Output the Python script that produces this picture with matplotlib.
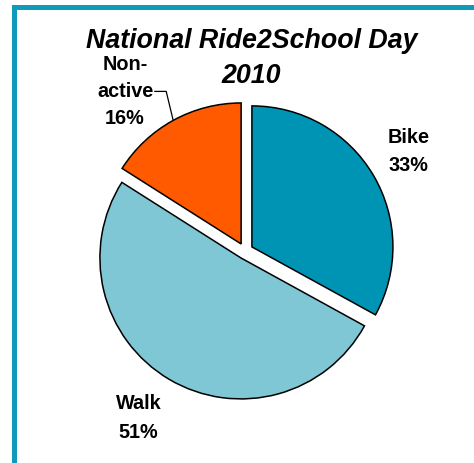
import numpy as np
import matplotlib
matplotlib.use("Agg")
import matplotlib.pyplot as plt
from matplotlib.patches import Rectangle

categories = ["Bike", "Walk", "Non-\nactive"]
values = [33, 51, 16]
title_lines = ["National Ride2School Day", "2010"]

colors = ["#0094B4", "#7FC7D5", "#FF5A00"]
frame_color = "#0E9AB8"
explode_frac = 0.057

W, H = 474, 464
scale = 141.0          # pixels per data unit (pie radius = 1)
cx, cy = 245.0, 252.0  # pie centre in pixels from top-left

fig = plt.figure(figsize=(W / 100, H / 100), dpi=100)
fig.patch.set_facecolor("white")
ax = fig.add_axes([0, 0, 1, 1])

wedges, _ = ax.pie(values, colors=colors, startangle=90, counterclock=False,
                   explode=[explode_frac] * len(values),
                   wedgeprops=dict(edgecolor="black", linewidth=1.1))
ax.set_xlim(-cx / scale, (W - cx) / scale)
ax.set_ylim(-(H - cy) / scale, cy / scale)
ax.set_aspect("auto")
ax.axis("off")

total = float(sum(values))
starts = 90 - 360 * np.concatenate([[0], np.cumsum(values)[:-1]]) / total
mids = starts - 180 * np.array(values) / total

font = "Liberation Sans"
label_r = [1.36, 1.40, 1.42]
label_da = [1.0, -2.0, 8.0]
label_ls = [1.66, 1.66, 1.55]
for cat, v, m, r, da, ls in zip(categories, values, mids, label_r, label_da,
                                label_ls):
    a = np.deg2rad(m + da)
    ax.text(r * np.cos(a), r * np.sin(a), f"{cat}\n{v}%", ha="center",
            va="center", fontsize=14.3, fontweight="bold", family=font,
            linespacing=ls, multialignment="center")

m = np.deg2rad(mids[2])
tip = np.array([(1 + explode_frac) * np.cos(m), (1 + explode_frac) * np.sin(m)])
knee = tip + np.array([-7, 29]) / scale
start = knee + np.array([-12, 0]) / scale
ax.plot([start[0], knee[0], tip[0]], [start[1], knee[1], tip[1]],
        color="black", lw=0.9, solid_capstyle="butt")

for line, ypx in zip(title_lines, [41, 76]):
    fig.text(251.5 / W, 1 - ypx / H, line, ha="center", va="center",
             fontsize=19.3, fontweight="bold", fontstyle="italic", family=font)

# teal frame drawn in its own top-most overlay axes
fax = fig.add_axes([0, 0, 1, 1], zorder=50)
fax.set_xlim(0, W)
fax.set_ylim(H, 0)
fax.axis("off")
bar = 5.0
x0, y0 = 12.0, 6.0
fax.add_patch(Rectangle((x0, y0), bar, H - y0 + 5, facecolor=frame_color,
                        edgecolor="none", clip_on=False))
fax.add_patch(Rectangle((x0, y0), W - x0 + 5, bar, facecolor=frame_color,
                        edgecolor="none", clip_on=False))

fig.savefig("out.png", dpi=100, facecolor="white")
